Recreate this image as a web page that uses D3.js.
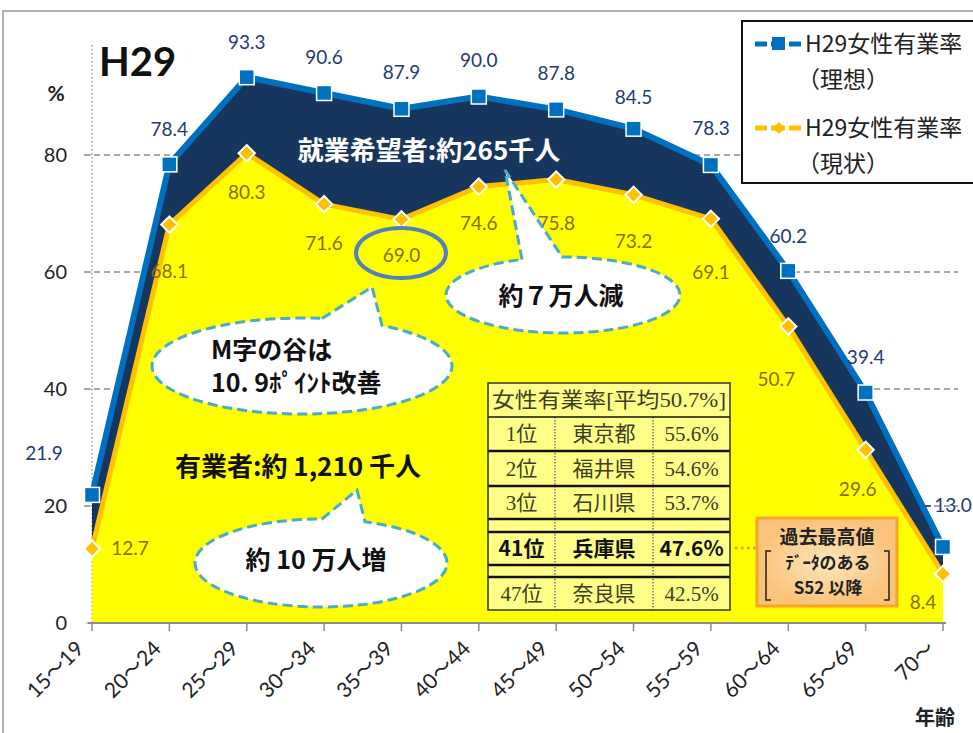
<!DOCTYPE html>
<html><head><meta charset="utf-8">
<script src="https://cdn.jsdelivr.net/npm/d3@7"></script>
<style>
body{margin:0;background:#fff;}
svg{display:block;}
text{font-family:Lato,"Noto Sans CJK JP",sans-serif;}
.cjk{font-family:"Noto Sans CJK JP",sans-serif;}
.serif{font-family:"Liberation Serif","Noto Sans CJK JP",serif;}
</style></head>
<body>
<script>
// ---- data ----
const categories = ["15～19","20～24","25～29","30～34","35～39","40～44","45～49","50～54","55～59","60～64","65～69","70～"];
const idealRate  = [21.9, 78.4, 93.3, 90.6, 87.9, 90.0, 87.8, 84.5, 78.3, 60.2, 39.4, 13.0];
const actualRate = [12.7, 68.1, 80.3, 71.6, 69.0, 74.6, 75.8, 73.2, 69.1, 50.7, 29.6, 8.4];
const yTicks = [0, 20, 40, 60, 80];
const seriesNames = ["H29女性有業率", "H29女性有業率"];
const seriesSub = ["（理想）", "（現状）"];
const tableHeader = "女性有業率[平均50.7%]";
const tableRanks = ["1位", "2位", "3位", "41位", "47位"];
const tablePrefs = ["東京都", "福井県", "石川県", "兵庫県", "奈良県"];
const tableRates = ["55.6%", "54.6%", "53.7%", "47.6%", "42.5%"];

// ---- layout ----
const W = 973, H = 733;
const svg = d3.select("body").append("svg").attr("width", W).attr("height", H);
const x = d3.scalePoint().domain(categories).range([92, 943]);
const y = d3.scaleLinear().domain([0, 100]).range([623, 38]);

// frame
svg.append("path").attr("d", `M3,${H} L3,11 L${W},11`).attr("fill", "none").attr("stroke", "#b0b0b0").attr("stroke-width", 2);

// gridlines
svg.append("g").selectAll("line").data(yTicks.filter(d => d > 0)).join("line")
  .attr("x1", 84).attr("x2", 958).attr("y1", d => y(d)).attr("y2", d => y(d))
  .attr("stroke", "#8c8c8c").attr("stroke-width", 1.5).attr("stroke-dasharray", "6,4");

// y axis dotted line
svg.append("line").attr("x1", 92).attr("x2", 92).attr("y1", y(98.8)).attr("y2", y(0))
  .attr("stroke", "#a0a0a0").attr("stroke-width", 1.5).attr("stroke-dasharray", "1.5,2.5");
svg.append("g").selectAll("line").data(yTicks).join("line")
  .attr("x1", 86).attr("x2", 92).attr("y1", d => y(d)).attr("y2", d => y(d))
  .attr("stroke", "#a0a0a0").attr("stroke-width", 1);
svg.append("g").selectAll("text").data(yTicks).join("text")
  .attr("x", 67).attr("y", d => y(d)).attr("dy", "0.35em").attr("text-anchor", "end")
  .attr("font-size", 20).attr("fill", "#222").text(d => d);
svg.append("text").attr("x", 56).attr("y", 94).attr("dy", "0.35em").attr("text-anchor", "middle")
  .attr("font-size", 21).attr("font-weight", "bold").attr("fill", "#222").text("%");

// areas
const idx = d3.range(categories.length);
const navyArea = d3.area().x(i => x(categories[i])).y0(i => y(actualRate[i])).y1(i => y(idealRate[i]));
const yellowArea = d3.area().x(i => x(categories[i])).y0(y(0)).y1(i => y(actualRate[i]));
svg.append("path").attr("d", navyArea(idx)).attr("fill", "#17365d");
svg.append("path").attr("d", yellowArea(idx)).attr("fill", "#ffff00");

// lines
const idealLine = d3.line().x(i => x(categories[i])).y(i => y(idealRate[i]));
const actualLine = d3.line().x(i => x(categories[i])).y(i => y(actualRate[i]));
svg.append("path").attr("d", idealLine(idx)).attr("fill", "none").attr("stroke", "#0070c0").attr("stroke-width", 6).attr("stroke-linejoin", "round");
svg.append("path").attr("d", actualLine(idx)).attr("fill", "none").attr("stroke", "#ffc000").attr("stroke-width", 5).attr("stroke-linejoin", "round");

// markers
svg.append("g").selectAll("rect").data(idx).join("rect")
  .attr("x", i => x(categories[i]) - 7.5).attr("y", i => y(idealRate[i]) - 7.5)
  .attr("width", 15).attr("height", 15).attr("fill", "#0070c0").attr("stroke", "#fff").attr("stroke-width", 1.5);
const diamond = d3.symbol().type(d3.symbolDiamond2).size(170);
svg.append("g").selectAll("path").data(idx).join("path")
  .attr("d", diamond).attr("transform", i => `translate(${x(categories[i])},${y(actualRate[i])})`)
  .attr("fill", "#ffc000").attr("stroke", "#fff").attr("stroke-width", 2);

// x axis
svg.append("line").attr("x1", 88).attr("x2", 946).attr("y1", y(0)).attr("y2", y(0)).attr("stroke", "#8c8c8c").attr("stroke-width", 2);
svg.append("g").selectAll("line").data(categories).join("line")
  .attr("x1", d => x(d)).attr("x2", d => x(d)).attr("y1", y(0)).attr("y2", y(0) + 8)
  .attr("stroke", "#8c8c8c").attr("stroke-width", 1.5);
svg.append("g").selectAll("text").data(categories).join("text")
  .attr("transform", d => `translate(${x(d) - 7},${y(0) + 27}) rotate(-45)`)
  .attr("text-anchor", "end").attr("font-size", 21).attr("fill", "#222").text(d => d);
svg.append("text").attr("x", 935).attr("y", 718).attr("dy", "0.35em").attr("text-anchor", "middle")
  .attr("class", "cjk").attr("font-size", 20).attr("font-weight", "bold").attr("fill", "#222").text("年齢");

// data labels
const idealOff = [[-48,-42],[0,-35],[0,-35],[0,-36],[0,-36],[0,-36],[0,-36],[0,-31],[0,-37],[0,-34],[0,-35],[10,-42]];
const actualOff = [[38,0],[0,47],[0,39],[0,39],[0,36],[0,37],[0,44],[0,47],[0,54],[-12,53],[-8,40],[-20,28]];
svg.append("g").selectAll("text").data(idx).join("text")
  .attr("x", i => x(categories[i]) + idealOff[i][0]).attr("y", i => y(idealRate[i]) + idealOff[i][1])
  .attr("dy", "0.35em").attr("text-anchor", "middle").attr("font-size", 19).attr("fill", "#243a73")
  .text(i => idealRate[i].toFixed(1));
svg.append("line").attr("x1", 925).attr("x2", 931).attr("y1", 506).attr("y2", 506).attr("stroke", "#243a73").attr("stroke-width", 1.5);
svg.append("g").selectAll("text").data(idx).join("text")
  .attr("x", i => x(categories[i]) + actualOff[i][0]).attr("y", i => y(actualRate[i]) + actualOff[i][1])
  .attr("dy", "0.35em").attr("text-anchor", "middle").attr("font-size", 19).attr("fill", "#8a6d0b")
  .text(i => actualRate[i].toFixed(1));

// 69.0 circle
svg.append("ellipse").attr("cx", 401).attr("cy", 253).attr("rx", 45).attr("ry", 25)
  .attr("fill", "none").attr("stroke", "#4f81bd").attr("stroke-width", 4);

// title
svg.append("text").attr("x", 99).attr("y", 62).attr("dy", "0.35em").attr("font-size", 40).attr("font-weight", "bold").attr("fill", "#111").text("H29");

// navy text
svg.append("text").attr("x", 429).attr("y", 151).attr("dy", "0.35em").attr("text-anchor", "middle")
  .attr("class", "cjk").attr("font-size", 26).attr("font-weight", "bold").attr("fill", "#fff").text("就業希望者:約265千人");

// callouts
function callout(cx, cy, rx, ry, tip, bx1, bx2) {
  const ey = bx => cy - ry * Math.sqrt(1 - Math.pow((bx - cx) / rx, 2));
  const p = `M${bx1},${ey(bx1)} L${tip[0]},${tip[1]} L${bx2},${ey(bx2)} A${rx},${ry} 0 1 1 ${bx1},${ey(bx1)} Z`;
  svg.append("path").attr("d", p).attr("fill", "#fff").attr("stroke", "#4bacc6").attr("stroke-width", 3).attr("stroke-dasharray", "10,5");
}
callout(563, 295, 117, 38, [505, 170], 522, 562);
callout(302, 366, 150, 48, [372, 287], 322, 382);
callout(321, 563, 126, 44, [357, 490], 322, 365);

svg.append("text").attr("x", 561).attr("y", 296).attr("dy", "0.35em").attr("text-anchor", "middle")
  .attr("class", "cjk").attr("font-size", 25).attr("font-weight", "bold").attr("fill", "#111").text("約７万人減");
svg.append("text").attr("x", 211).attr("y", 350).attr("dy", "0.35em")
  .attr("class", "cjk").attr("font-size", 25).attr("font-weight", "bold").attr("fill", "#111").text("M字の谷は");
svg.append("text").attr("x", 211).attr("y", 383).attr("dy", "0.35em")
  .attr("class", "cjk").attr("font-size", 25).attr("font-weight", "bold").attr("fill", "#111").text("10. 9ﾎﾟｲﾝﾄ改善");
svg.append("text").attr("x", 316).attr("y", 560).attr("dy", "0.35em").attr("text-anchor", "middle")
  .attr("class", "cjk").attr("font-size", 25).attr("font-weight", "bold").attr("fill", "#111").text("約 10 万人増");
svg.append("text").attr("x", 298).attr("y", 467).attr("dy", "0.35em").attr("text-anchor", "middle")
  .attr("class", "cjk").attr("font-size", 26).attr("font-weight", "bold").attr("fill", "#111").text("有業者:約 1,210 千人");

// table
const colX = [488, 555, 653, 730];
const rowsY = [[417,451],[451,486],[486,519],[532,565],[577,610]];
const tg = svg.append("g");
tg.append("rect").attr("x", 488).attr("y", 383).attr("width", 242).attr("height", 227).attr("fill", "#ffff88");
[555, 653].forEach(cx => tg.append("line").attr("x1", cx).attr("x2", cx).attr("y1", 417).attr("y2", 610)
  .attr("stroke", "#4a5a8a").attr("stroke-width", 1.2).attr("stroke-dasharray", "1.5,1.5"));
[417, 451, 486, 519, 532, 565, 577].forEach(hy => tg.append("line").attr("x1", 488).attr("x2", 730).attr("y1", hy).attr("y2", hy)
  .attr("stroke", "#111").attr("stroke-width", hy === 417 ? 1.5 : 2.5));
tg.append("rect").attr("x", 488).attr("y", 383).attr("width", 242).attr("height", 227).attr("fill", "none").attr("stroke", "#333").attr("stroke-width", 1.5);
tg.append("text").attr("x", 609).attr("y", 400).attr("dy", "0.35em").attr("text-anchor", "middle")
  .attr("class", "serif").attr("font-size", 21).attr("fill", "#3d3d1f").attr("textLength", 234).attr("lengthAdjust", "spacingAndGlyphs").text(tableHeader);
rowsY.forEach((r, i) => {
  const bold = tableRanks[i] === "41位";
  const cy = (r[0] + r[1]) / 2;
  const cols = [tableRanks[i], tablePrefs[i], tableRates[i]];
  cols.forEach((t, j) => {
    tg.append("text").attr("x", (colX[j] + colX[j + 1]) / 2).attr("y", cy).attr("dy", "0.35em")
      .attr("text-anchor", "middle").attr("class", bold ? "cjk" : "serif")
      .attr("font-size", 21).attr("font-weight", bold ? "bold" : "normal")
      .attr("fill", bold ? "#111" : "#3d3d1f").text(t);
  });
});

// dotted connector
svg.append("line").attr("x1", 736).attr("x2", 756).attr("y1", 548).attr("y2", 548)
  .attr("stroke", "#f79646").attr("stroke-width", 3).attr("stroke-dasharray", "0.1,6").attr("stroke-linecap", "round");

// orange box
const defs = svg.append("defs");
const grad = defs.append("radialGradient").attr("id", "og");
grad.append("stop").attr("offset", "0%").attr("stop-color", "#fde6b8");
grad.append("stop").attr("offset", "100%").attr("stop-color", "#fac27a");
svg.append("rect").attr("x", 757).attr("y", 518).attr("width", 140).attr("height", 88)
  .attr("fill", "url(#og)").attr("stroke", "#f5a623").attr("stroke-width", 3);
svg.append("text").attr("x", 827).attr("y", 537).attr("dy", "0.35em").attr("text-anchor", "middle")
  .attr("class", "cjk").attr("font-size", 19).attr("font-weight", "bold").attr("fill", "#222").text("過去最高値");
svg.append("text").attr("x", 828).attr("y", 563).attr("dy", "0.35em").attr("text-anchor", "middle")
  .attr("class", "cjk").attr("font-size", 17).attr("font-weight", "bold").attr("fill", "#222").text("ﾃﾞｰﾀのある");
svg.append("text").attr("x", 828).attr("y", 588).attr("dy", "0.35em").attr("text-anchor", "middle")
  .attr("class", "cjk").attr("font-size", 17).attr("font-weight", "bold").attr("fill", "#222").text("S52 以降");
svg.append("path").attr("d", "M771,551 L766,551 L766,600 L771,600").attr("fill", "none").attr("stroke", "#222").attr("stroke-width", 1.5);
svg.append("path").attr("d", "M884,551 L889,551 L889,600 L884,600").attr("fill", "none").attr("stroke", "#222").attr("stroke-width", 1.5);

// legend
const lg = svg.append("g");
lg.append("rect").attr("x", 742).attr("y", 21).attr("width", 240).attr("height", 162).attr("fill", "#fff").attr("stroke", "#111").attr("stroke-width", 2);
lg.append("line").attr("x1", 755).attr("x2", 802).attr("y1", 44).attr("y2", 44).attr("stroke", "#0070c0").attr("stroke-width", 5).attr("stroke-dasharray", "12,4,14,4,12");
lg.append("rect").attr("x", 772).attr("y", 37).attr("width", 13).attr("height", 13).attr("fill", "#0070c0");
lg.append("line").attr("x1", 755).attr("x2", 802).attr("y1", 128).attr("y2", 128).attr("stroke", "#ffc000").attr("stroke-width", 5).attr("stroke-dasharray", "12,4,14,4,12");
lg.append("path").attr("d", d3.symbol().type(d3.symbolDiamond2).size(90)).attr("transform", "translate(779,128)").attr("fill", "#ffc000");
[0, 1].forEach(i => {
  const by = i === 0 ? 44 : 128;
  lg.append("text").attr("x", 805).attr("y", by).attr("dy", "0.35em").attr("class", "cjk").attr("font-size", 23).attr("fill", "#222").text(seriesNames[i]);
  lg.append("text").attr("x", 797).attr("y", by + 36).attr("dy", "0.35em").attr("class", "cjk").attr("font-size", 23).attr("fill", "#222").text(seriesSub[i]);
});
</script>
</body></html>
